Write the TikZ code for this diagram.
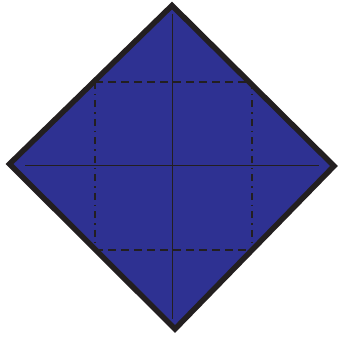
\documentclass[tikz,border=0pt]{standalone}
\begin{document}
\begin{tikzpicture}[x=1pt,y=-1pt,
  outline/.style={draw=dk,line width=5.5pt,line join=miter,fill=bl},
  fold/.style={draw=dk,line width=0.8pt},
  valley/.style={draw=dk,line width=1.5pt,dash pattern=on 8pt off 5pt},
  mountain/.style={draw=dk,line width=1.5pt,dash pattern=on 7pt off 5pt on 1.5pt off 5pt}]
\definecolor{bl}{HTML}{2E3192}
\definecolor{dk}{HTML}{231F20}
\useasboundingbox (0,0) rectangle (340,339);
\coordinate (T) at (172,5.5);
\coordinate (R) at (334,166);
\coordinate (B) at (175,329);
\coordinate (L) at (9.5,164);
\path[outline] (T) -- (R) -- (B) -- (L) -- cycle;
\coordinate (vt) at (172,14);
\coordinate (vb) at (172,319);
\coordinate (hl) at (25,165);
\coordinate (hr) at (319,165);
\draw[fold] (vt) -- (vb);
\draw[fold] (hl) -- (hr);
\coordinate (a) at (95,82);
\coordinate (b) at (252,82);
\coordinate (c) at (252,250);
\coordinate (d) at (95,250);
\draw[valley] (a) -- (b);
\draw[valley] (d) -- (c);
\draw[mountain] (a) -- (d);
\draw[mountain] (b) -- (c);
\end{tikzpicture}
\end{document}
